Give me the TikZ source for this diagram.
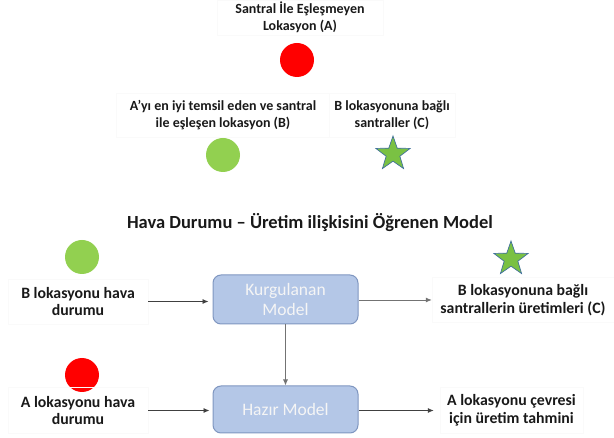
\documentclass[tikz,border=0pt]{standalone}
\usepackage{fontspec}
\setmainfont{Carlito}
\usetikzlibrary{shapes.geometric,arrows.meta}
\definecolor{boxfill}{HTML}{B4C7E7}
\definecolor{boxline}{HTML}{7F96C0}
\definecolor{dotgreen}{HTML}{92D050}
\definecolor{dotred}{HTML}{FF0000}
\definecolor{stargreen}{HTML}{7AC143}
\definecolor{starline}{HTML}{41719C}
\definecolor{faint}{HTML}{FAFAFA}
\tikzset{
  txt/.style={draw=faint, line width=0.5pt, align=center, inner sep=0pt, text=black!90,
    font=\bfseries\fontsize{15.8}{17.5}\selectfont},
  txtsmall/.style={txt, font=\bfseries\fontsize{14}{17}\selectfont},
  dotr/.style={circle, fill=dotred, inner sep=0pt, minimum size=34pt},
  dotg/.style={circle, fill=dotgreen, inner sep=0pt, minimum size=34pt},
  starc/.style={star, star points=5, star point ratio=2.5, fill=stargreen,
    draw=starline, line width=0.7pt, inner sep=0pt, minimum size=36pt},
  model/.style={rounded corners=8pt, fill=boxfill, draw=boxline, line width=1pt,
    align=center, text=white!96!black, minimum width=145pt,
    font=\fontsize{17.5}{20}\selectfont},
  arr/.style={-{Latex[length=6pt,width=5pt]}, line width=0.8pt, draw=black!75},
}
\begin{document}
\begin{tikzpicture}[x=1pt,y=-1pt]
\useasboundingbox (0,0) rectangle (614,438);
% top legend
\node[txtsmall, minimum width=166pt, minimum height=35pt] (tA) at (300,17.5) {Santral İle Eşleşmeyen\\Lokasyon (A)};
\node[dotr] (cA) at (297,60) {};
\node[txtsmall, minimum width=213pt, minimum height=44pt] (tB) at (223,115.5) {A’yı en iyi temsil eden ve santral\\ile eşleşen lokasyon (B)};
\node[dotg] (cB) at (223,155) {};
\node[txtsmall, minimum width=126pt, minimum height=44pt] (tC) at (392,115.5) {B lokasyonuna bağlı\\santraller (C)};
\node[starc] (sC) at (393,154) {};
% title
\node[font=\bfseries\fontsize{18.5}{21}\selectfont, text=black!90] (title) at (310,223) {Hava Durumu – Üretim ilişkisini Öğrenen Model};
% flow
\node[dotg] (cB2) at (82,257) {};
\node[txt, minimum width=140pt, minimum height=45pt] (tBw) at (78,301.5) {B lokasyonu hava\\durumu};
\node[model, minimum height=49pt] (km) at (285.5,299.5) {Kurgulanan\\Model};
\node[txt, minimum width=182pt, minimum height=45pt] (tCo) at (523,300) {B lokasyonuna bağlı\\santrallerin üretimleri (C)};
\node[starc] (sC2) at (511,259) {};
\node[dotr] (cA2) at (82,375) {};
\node[txt, minimum width=140pt, minimum height=46pt] (tAw) at (78,410.5) {A lokasyonu hava\\durumu};
\node[model, minimum height=47pt] (hm) at (285.5,409.5) {Hazır Model};
\node[txt, minimum width=143pt, minimum height=46pt] (tAo) at (511.5,410.5) {A lokasyonu çevresi\\için üretim tahmini};
% connectors
\draw[arr, shorten >=4pt] (tBw.east) -- (km.west |- tBw.east);
\draw[arr, shorten >=3pt] (tAw.east) -- (hm.west |- tAw.east);
\draw[arr, draw=black!55] (km.east |- tCo.west) -- (tCo.west);
\draw[arr] (hm.east |- tAo.west) -- ([xshift=-6pt]tAo.west);
\draw[arr, draw=black!55] (km.south) -- (hm.north);
\end{tikzpicture}
\end{document}
